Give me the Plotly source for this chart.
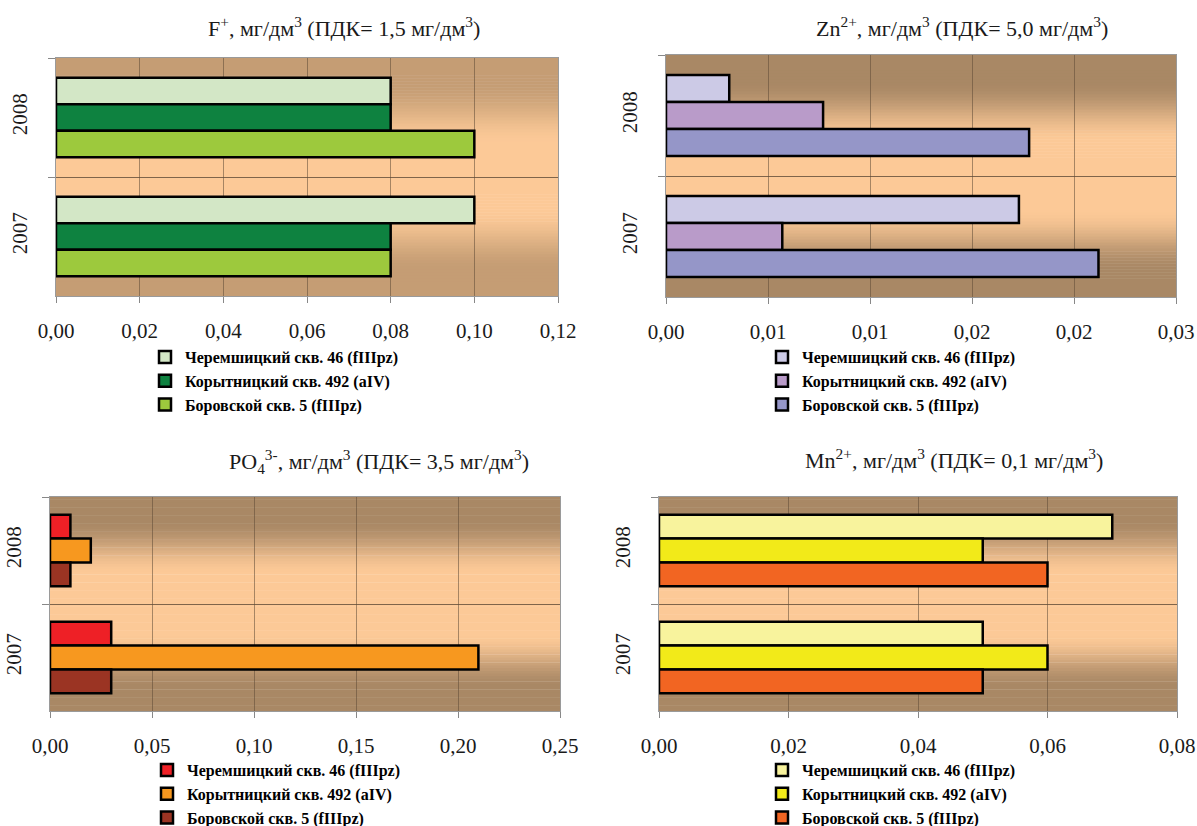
import plotly.graph_objects as go

# ---------------- data ----------------
years = ["2008", "2007"]
series_names = ["Черемшицкий скв. 46 (fIIIpz)",
                "Корытницкий скв. 492 (aIV)",
                "Боровской скв. 5 (fIIIpz)"]

# F+ values: [2008, 2007]
f_cherem = [0.08, 0.10]
f_koryt = [0.08, 0.08]
f_borov = [0.10, 0.08]

# Zn2+
zn_cherem = [0.0031, 0.0173]
zn_koryt = [0.0077, 0.0057]
zn_borov = [0.0178, 0.0212]

# PO4 3-
po_cherem = [0.01, 0.03]
po_koryt = [0.02, 0.21]
po_borov = [0.01, 0.03]

# Mn2+
mn_cherem = [0.07, 0.05]
mn_koryt = [0.05, 0.06]
mn_borov = [0.06, 0.05]

f_ticks = [0, 0.02, 0.04, 0.06, 0.08, 0.10, 0.12]
f_ticktext = ["0,00", "0,02", "0,04", "0,06", "0,08", "0,10", "0,12"]
zn_ticks = [0, 0.005, 0.010, 0.015, 0.020, 0.025]
zn_ticktext = ["0,00", "0,01", "0,01", "0,02", "0,02", "0,03"]
po_ticks = [0, 0.05, 0.10, 0.15, 0.20, 0.25]
po_ticktext = ["0,00", "0,05", "0,10", "0,15", "0,20", "0,25"]
mn_ticks = [0, 0.02, 0.04, 0.06, 0.08]
mn_ticktext = ["0,00", "0,02", "0,04", "0,06", "0,08"]

titles = [
    "F<sup>+</sup>, мг/дм<sup>3</sup> (ПДК= 1,5 мг/дм<sup>3</sup>)",
    "Zn<sup>2+</sup>, мг/дм<sup>3</sup> (ПДК= 5,0 мг/дм<sup>3</sup>)",
    "PO<sub>4</sub><sup>3-</sup>, мг/дм<sup>3</sup> (ПДК= 3,5 мг/дм<sup>3</sup>)",
    "Mn<sup>2+</sup>, мг/дм<sup>3</sup> (ПДК= 0,1 мг/дм<sup>3</sup>)",
]

# ---------------- styling ----------------
W, H = 1197, 826
SERIF = "Liberation Serif"

panels = [
    dict(vals=[f_cherem, f_koryt, f_borov], colors=["#d3e7c6", "#0e8240", "#9dc93d"],
         ticks=f_ticks, ticktext=f_ticktext, rng=[0, 0.12],
         box=(56, 558, 58, 296), title_xy=(344, 27), legend_xy=(145, 340),
         brown=(197, 157, 116)),
    dict(vals=[zn_cherem, zn_koryt, zn_borov], colors=["#cccae6", "#b99bc9", "#9596c8"],
         ticks=zn_ticks, ticktext=zn_ticktext, rng=[0, 0.025],
         box=(666, 1176, 55, 297), title_xy=(962, 27), legend_xy=(762, 340),
         brown=(169, 136, 101)),
    dict(vals=[po_cherem, po_koryt, po_borov], colors=["#ee2026", "#f7981f", "#9b3423"],
         ticks=po_ticks, ticktext=po_ticktext, rng=[0, 0.25],
         box=(50, 560, 497, 711), title_xy=(379, 462), legend_xy=(147, 753),
         brown=(169, 136, 101)),
    dict(vals=[mn_cherem, mn_koryt, mn_borov], colors=["#f8f39d", "#f2ea19", "#f26522"],
         ticks=mn_ticks, ticktext=mn_ticktext, rng=[0, 0.08],
         box=(659, 1177, 497, 711), title_xy=(954, 459), legend_xy=(762, 753),
         brown=(169, 136, 101)),
]

PEACH = (252, 201, 151)

fig = go.Figure()
shapes = []
annotations = []
layout_axes = {}

for i, p in enumerate(panels):
    n = i + 1
    xa = "x" if n == 1 else f"x{n}"
    ya = "y" if n == 1 else f"y{n}"
    lg = "legend" if n == 1 else f"legend{n}"
    x0, x1, y0, y1 = p["box"]
    for name, v, c in zip(series_names, p["vals"], p["colors"]):
        fig.add_trace(go.Bar(
            x=v, y=years, orientation="h", name=name, xaxis=xa, yaxis=ya,
            legend=lg, marker=dict(color=c, line=dict(color="#000000", width=2.5)),
            hoverinfo="x+y+name"))
    xkey = "xaxis" if n == 1 else f"xaxis{n}"
    ykey = "yaxis" if n == 1 else f"yaxis{n}"
    layout_axes[xkey] = dict(
        domain=[x0 / W, x1 / W], anchor=ya, range=p["rng"], automargin=False,
        tickvals=p["ticks"], ticktext=p["ticktext"],
        showgrid=True, gridcolor="rgba(95,75,55,0.55)", gridwidth=1,
        ticks="outside", ticklen=6, tickcolor="#888888",
        showline=True, linecolor="#9a9a9a", linewidth=1, mirror=True,
        zeroline=False, ticklabelstandoff=10,
        tickfont=dict(family=SERIF, size=21, color="#1a1a1a"))
    layout_axes[ykey] = dict(
        domain=[1 - y1 / H, 1 - y0 / H], anchor=xa, type="category", automargin=False,
        categoryorder="array", categoryarray=years, autorange="reversed",
        tickson="boundaries", ticks="outside", ticklen=7, tickcolor="#888888",
        showgrid=True, gridcolor="rgba(95,75,55,0.55)", gridwidth=1,
        showline=True, linecolor="#9a9a9a", linewidth=1, mirror=True,
        tickangle=-90, ticklabelstandoff=20,
        tickfont=dict(family=SERIF, size=21, color="#1a1a1a"))
    # gradient background strips
    N = 80
    br = p["brown"]
    for k in range(N):
        t = (k + 0.5) / N
        d = abs(t - 0.5) * 2
        g = min(max((d - 0.28) / 0.5, 0.0), 1.0)
        g = g * g * (3 - 2 * g)
        col = tuple(int(round(PEACH[j] + (br[j] - PEACH[j]) * g)) for j in range(3))
        shapes.append(dict(
            type="rect", xref=f"{xa} domain", yref=f"{ya} domain",
            x0=0, x1=1, y0=k / N, y1=(k + 1) / N + 0.002,
            fillcolor=f"rgb{col}", line=dict(width=0), layer="below"))
    tx, ty = p["title_xy"]
    annotations.append(dict(
        text=titles[i], x=tx / W, y=1 - ty / H, xref="paper", yref="paper",
        xanchor="center", yanchor="middle", showarrow=False,
        font=dict(family=SERIF, size=22, color="#1a1a1a")))
    lx, ly = p["legend_xy"]
    layout_axes[lg] = dict(
        x=lx / W, y=1 - ly / H, xref="container", yref="container",
        xanchor="left", yanchor="top",
        bgcolor="rgba(0,0,0,0)", borderwidth=0, tracegroupgap=0,
        font=dict(family=SERIF, size=16, color="#000000", weight="bold"),
        itemclick=False, itemdoubleclick=False)

fig.update_layout(
    width=W, height=H, margin=dict(l=0, r=0, t=0, b=0, autoexpand=False),
    paper_bgcolor="white", plot_bgcolor="white",
    font=dict(family=SERIF),
    barmode="group", bargap=0.33, bargroupgap=0,
    showlegend=True, shapes=shapes, annotations=annotations,
    **layout_axes)

fig.write_html("out.html")
